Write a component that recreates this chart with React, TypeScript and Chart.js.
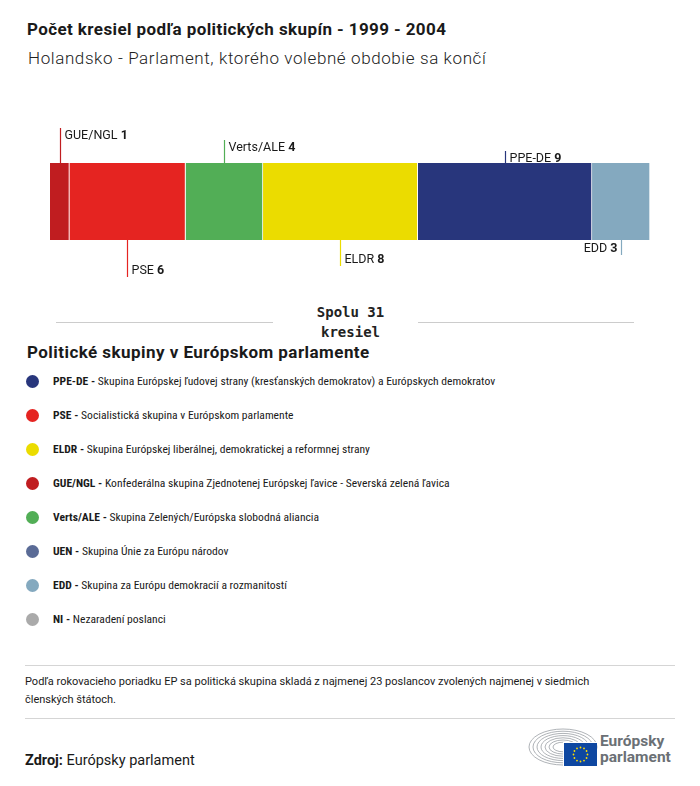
import React, { useEffect, useRef } from "react";
import { Chart, registerables } from "chart.js";

Chart.register(...registerables);

// ---- data ----
const groups = ["GUE/NGL", "PSE", "Verts/ALE", "ELDR", "PPE-DE", "EDD"];
const seats = [1, 6, 4, 8, 9, 3];
const groupColors = ["#c01d20", "#e52421", "#52ae56", "#ebdc00", "#28367c", "#84a9bf"];
const totalSeats = 31;

const legendCodes = ["PPE-DE", "PSE", "ELDR", "GUE/NGL", "Verts/ALE", "UEN", "EDD", "NI"];
const legendNames = [
  "Skupina Európskej ľudovej strany (kresťanských demokratov) a Európskych demokratov",
  "Socialistická skupina v Európskom parlamente",
  "Skupina Európskej liberálnej, demokratickej a reformnej strany",
  "Konfederálna skupina Zjednotenej Európskej ľavice - Severská zelená ľavica",
  "Skupina Zelených/Európska slobodná aliancia",
  "Skupina Únie za Európu národov",
  "Skupina za Európu demokracií a rozmanitostí",
  "Nezaradení poslanci",
];
const legendColors = ["#28367c", "#e52421", "#ebdc00", "#c01d20", "#52ae56", "#5a6b96", "#84a9bf", "#aaaaaa"];

// label placement (style, not data)
const labelSide = ["above", "below", "above", "below", "above", "below"];
const leaderLen = [35, 37, 23, 26, 12, 15];
const labelAlign = ["left", "left", "left", "left", "left", "right"];

const FONT = "Roboto, 'Noto Sans', sans-serif";
const NARROW = "'Liberation Sans Narrow', 'Roboto Condensed', 'Arial Narrow', Roboto, sans-serif";

const leaderPlugin = {
  id: "leaders",
  afterDatasetsDraw(chart: any) {
    const ctx = chart.ctx as CanvasRenderingContext2D;
    chart.data.datasets.forEach((ds: any, i: number) => {
      const el = chart.getDatasetMeta(i).data[0];
      if (!el) return;
      const p = el.getProps(["x", "base", "y", "height"], true);
      const cx = Math.round((p.x + p.base) / 2) + 0.5;
      const top = p.y - p.height / 2;
      const bottom = p.y + p.height / 2;
      const len = leaderLen[i];
      ctx.save();
      ctx.strokeStyle = groupColors[i];
      ctx.lineWidth = 1.2;
      ctx.beginPath();
      let textBase: number;
      if (labelSide[i] === "above") {
        ctx.moveTo(cx, top);
        ctx.lineTo(cx, top - len);
        textBase = top - len + 11;
      } else {
        ctx.moveTo(cx, bottom);
        ctx.lineTo(cx, bottom + len);
        textBase = bottom + len - 3;
      }
      ctx.stroke();
      const name = groups[i] + " ";
      const num = String(seats[i]);
      ctx.fillStyle = "#1a1a1a";
      ctx.textBaseline = "alphabetic";
      ctx.font = `400 12.5px ${FONT}`;
      const wName = ctx.measureText(name).width;
      ctx.font = `700 12.5px ${FONT}`;
      const wNum = ctx.measureText(num).width;
      const x0 = labelAlign[i] === "left" ? cx + 4 : cx - 4 - wName - wNum;
      ctx.textAlign = "left";
      ctx.font = `400 12.5px ${FONT}`;
      ctx.fillText(name, x0, textBase);
      ctx.font = `700 12.5px ${FONT}`;
      ctx.fillText(num, x0 + wName, textBase);
      ctx.restore();
    });
  },
};

function SeatBar() {
  const ref = useRef<HTMLCanvasElement | null>(null);
  useEffect(() => {
    if (!ref.current) return;
    const chart = new Chart(ref.current, {
      type: "bar",
      data: {
        labels: ["Holandsko"],
        datasets: groups.map((g, i) => ({
          label: g,
          data: [seats[i]],
          backgroundColor: groupColors[i],
          borderColor: "#ffffff",
          borderWidth: { left: 0, right: 1, top: 0, bottom: 0 },
          borderSkipped: false,
          barPercentage: 1,
          categoryPercentage: 1,
        })),
      },
      options: {
        indexAxis: "y",
        animation: false,
        responsive: false,
        events: [],
        layout: { padding: { left: 50, right: 50, top: 63, bottom: 60 } },
        scales: {
          x: { stacked: true, min: 0, max: totalSeats, display: false },
          y: { stacked: true, display: false },
        },
        plugins: { legend: { display: false }, tooltip: { enabled: false } },
      },
      plugins: [leaderPlugin],
    } as any);
    return () => chart.destroy();
  }, []);
  return <canvas ref={ref} width={700} height={200} style={{ position: "absolute", left: 0, top: 100, width: 700, height: 200 }} />;
}

function Logo() {
  const arcs = [0, 1, 2, 3, 4, 5, 6];
  return (
    <div style={{ position: "absolute", left: 527, top: 727, width: 150, height: 42 }}>
      <svg width={72} height={40} style={{ position: "absolute", left: 0, top: 0 }}>
        {arcs.map((k) => {
          const rx = 34 - k * 4;
          const ry = 18 - k * 2.2;
          return (
            <path
              key={k}
              d={`M ${36 - rx} 20 A ${rx} ${ry} 0 0 1 ${36 + rx} 20 A ${rx} ${ry} 0 0 1 ${36 - rx} 20`}
              fill="none"
              stroke="#9a9fa5"
              strokeWidth={0.8}
            />
          );
        })}
        <rect x={36} y={15} width={34} height={24} fill="#ffffff" />
        <rect x={37} y={16} width={33} height={23} fill="#0e47a1" />
        {Array.from({ length: 12 }).map((_, s) => {
          const a = (s / 12) * Math.PI * 2;
          return <circle key={s} cx={53.5 + Math.cos(a) * 7} cy={27.5 + Math.sin(a) * 7} r={0.9} fill="#ffdd00" />;
        })}
      </svg>
      <div style={{ position: "absolute", left: 73, top: 6, font: `700 15.5px ${FONT}`, color: "#6b7075", lineHeight: "16px" }}>
        Európsky
        <br />
        parlament
      </div>
    </div>
  );
}

export default function App() {
  return (
    <div style={{ position: "absolute", left: 0, top: 0, width: 700, height: 786, background: "#fff", fontFamily: FONT, color: "#1a1a1a" }}>
      <div style={{ position: "absolute", left: 27, top: 20, font: `700 17px ${FONT}`, letterSpacing: "0.4px", lineHeight: "19px", whiteSpace: "nowrap" }}>
        Počet kresiel podľa politických skupín - 1999 - 2004
      </div>
      <div style={{ position: "absolute", left: 28, top: 49, font: `300 17px ${FONT}`, letterSpacing: "0.6px", lineHeight: "19px", whiteSpace: "nowrap", color: "#222" }}>
        Holandsko - Parlament, ktorého volebné obdobie sa končí
      </div>

      <SeatBar />

      <div style={{ position: "absolute", left: 56, top: 322, width: 217, height: 1, background: "#cccccc" }} />
      <div style={{ position: "absolute", left: 418, top: 322, width: 216, height: 1, background: "#cccccc" }} />
      <div
        style={{
          position: "absolute",
          left: 280,
          top: 302,
          width: 141,
          textAlign: "center",
          font: "700 14px 'DejaVu Sans Mono', monospace",
          lineHeight: "20px",
          color: "#222",
        }}
      >
        Spolu {totalSeats}
        <br />
        kresiel
      </div>

      <div style={{ position: "absolute", left: 27, top: 342, font: `700 17px ${FONT}`, letterSpacing: "0.45px", lineHeight: "20px", whiteSpace: "nowrap" }}>
        Politické skupiny v Európskom parlamente
      </div>

      {legendCodes.map((c, i) => (
        <div key={c} style={{ position: "absolute", left: 0, top: 372 + i * 34, height: 18, width: 700 }}>
          <div style={{ position: "absolute", left: 26, top: 3, width: 13, height: 13, borderRadius: "50%", background: legendColors[i] }} />
          <div style={{ position: "absolute", left: 53, top: 0, font: `400 11.6px ${NARROW}`, lineHeight: "18px", whiteSpace: "nowrap" }}>
            <b style={{ fontWeight: 700 }}>{c} - </b>
            {legendNames[i]}
          </div>
        </div>
      ))}

      <div style={{ position: "absolute", left: 25, top: 665, width: 650, height: 1, background: "#d5d5d5" }} />
      <div style={{ position: "absolute", left: 25, top: 673, width: 615, font: `400 11px ${FONT}`, lineHeight: "18px" }}>
        Podľa rokovacieho poriadku EP sa politická skupina skladá z najmenej 23 poslancov zvolených najmenej v siedmich členských štátoch.
      </div>
      <div style={{ position: "absolute", left: 25, top: 718, width: 650, height: 1, background: "#d5d5d5" }} />

      <div style={{ position: "absolute", left: 25, top: 751, font: `400 14.5px ${FONT}`, lineHeight: "20px", whiteSpace: "nowrap" }}>
        <b style={{ fontWeight: 700 }}>Zdroj:</b> Európsky parlament
      </div>
      <Logo />
    </div>
  );
}
